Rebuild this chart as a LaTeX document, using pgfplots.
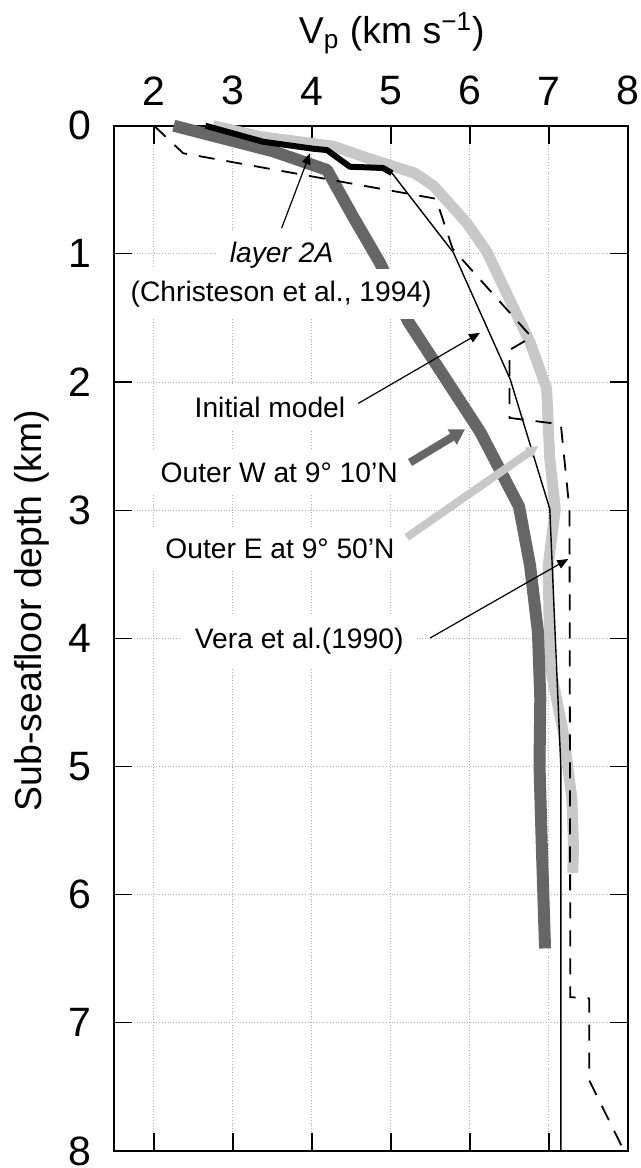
\documentclass[border=0pt]{standalone}
\usepackage{fontspec}
\setmainfont{Liberation Sans}
\usepackage{pgfplots}
\pgfplotsset{compat=1.18}
\usetikzlibrary{arrows.meta}
\definecolor{darkg}{HTML}{666666}
\definecolor{lightg}{HTML}{C8C8C8}
\begin{document}
\begin{tikzpicture}
\begin{axis}[
  scale only axis, width=256.75pt, height=512.6pt,
  xmin=1.5, xmax=8, ymin=0, ymax=8, y dir=reverse,
  xtick={2,...,8}, ytick={0,...,8},
  xticklabel pos=upper,
  tick align=inside, major tick length=9pt,
  every tick/.style={black, line width=0.6pt},
  axis line style={line width=1pt},
  grid=major, major grid style={densely dotted, gray!60, line width=0.5pt},
  /pgf/number format/assume math mode=true,
  ticklabel style={font=\fontsize{20.5}{24}\selectfont, inner sep=0pt},
  xticklabel style={yshift=10pt},
  yticklabel style={xshift=-11.5pt},
  xlabel={V\textsubscript{p} (km s\textsuperscript{−1})},
  ylabel={Sub-seafloor depth (km)},
  label style={font=\fontsize{18.7}{22}\selectfont},
  xlabel style={at={(axis description cs:0.54,1.0804)}, anchor=base},
  ylabel style={at={(axis description cs:-0.1418,0.527)}, anchor=base},
  clip=false,
]
\coordinate (ll) at (axis description cs:0,0);
\coordinate (ur) at (axis description cs:1,1);

% Outer E at 9 50'N (light gray)
\addplot[lightg, line width=5.5pt, line join=round] coordinates {
(2.75,0.0) (3.34,0.085) (4.27,0.16) (4.69,0.25) (5.30,0.37) (5.54,0.47)
(5.96,0.76) (6.21,0.98) (6.76,1.69) (6.97,2.05) (7.01,2.60) (7.08,2.99)
(6.99,3.43) (7.01,4.21) (7.18,4.73) (7.29,5.25) (7.31,5.64) (7.30,5.83)};

% Outer W at 9 10'N (dark gray)
\addplot[darkg, line width=6pt, line join=round] coordinates {
(2.25,0.0) (3.51,0.20) (4.19,0.345) (4.52,0.71) (4.86,1.07) (5.22,1.53)
(6.13,2.39) (6.62,2.97) (6.76,3.43) (6.86,3.95) (6.89,4.47) (6.88,4.99)
(6.91,5.64) (6.95,6.42)};

% Vera et al. (1990) dashed
\addplot[black, line width=0.9pt, dash pattern=on 8pt off 6pt] coordinates {
(2.0,0.0) (2.37,0.215) (5.57,0.57) (5.78,0.96) (6.78,1.65) (6.50,1.75)
(6.50,2.28) (7.15,2.33) (7.26,3.0) (7.27,6.80) (7.51,6.81) (7.51,7.45)
(7.95,8.0)};

% Initial model thin
\addplot[black, line width=0.7pt] coordinates {
(5.0,0.36) (5.79,0.99) (6.51,1.98) (7.01,2.99) (7.15,5.0) (7.15,8.0)};

% layer 2A (Christeson et al., 1994)
\addplot[black, line width=3pt, line join=round] coordinates {
(2.65,0.0) (3.38,0.125) (4.02,0.18) (4.19,0.19) (4.48,0.32) (4.90,0.33) (5.01,0.37)};

\tikzset{lab/.style={anchor=base, fill=white, inner xsep=7pt, inner ysep=6pt,
  font=\fontsize{14.1}{17}\selectfont}}
\node[lab] at (axis cs:3.616,1.071) {\textit{layer 2A}};
\node[lab] at (axis cs:3.61,1.370) {(Christeson et al., 1994)};
\node[lab] at (axis cs:3.468,2.278) {Initial model};
\node[lab] at (axis cs:3.585,2.784) {Outer W at 9° 10’N};
\node[lab] at (axis cs:3.595,3.376) {Outer E at 9° 50’N};
\node[lab] at (axis cs:3.838,4.082) {Vera et al.(1990)};

\draw[black, line width=0.6pt, -{Triangle[length=5.5pt,width=4.5pt]}] (axis cs:3.616,0.799) -- (axis cs:3.975,0.215);
\draw[black, line width=0.6pt, -{Triangle[length=5.5pt,width=4.5pt]}] (axis cs:4.586,2.167) -- (axis cs:6.127,1.616);
\draw[black, line width=0.6pt, -{Triangle[length=5.5pt,width=4.5pt]}] (axis cs:5.494,3.998) -- (axis cs:7.244,3.381);
\draw[darkg, line width=4pt, -{Triangle[length=7.5pt,width=8.5pt]}] (axis cs:5.241,2.628) -- (axis cs:5.937,2.369);
\draw[lightg, line width=4pt, -{Triangle[length=6pt,width=6pt]}] (axis cs:5.199,3.212) -- (axis cs:6.865,2.499);
\end{axis}
\pgfresetboundingbox
\path ([shift={(-57.25pt,-8.55pt)}]ll) rectangle ([shift={(6.5pt,62.85pt)}]ur);
\end{tikzpicture}
\end{document}
